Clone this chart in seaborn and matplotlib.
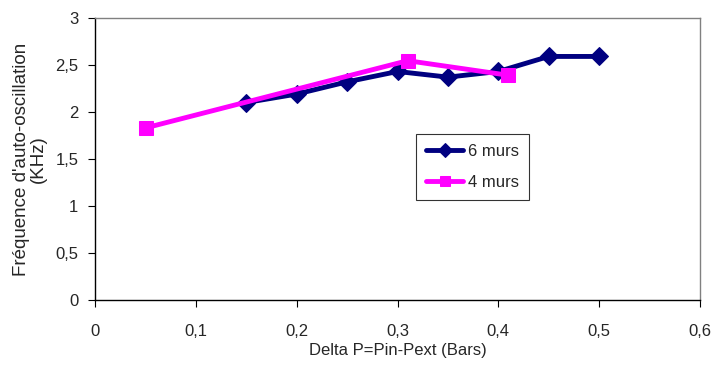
import matplotlib
matplotlib.use("Agg")
import matplotlib.pyplot as plt
import seaborn as sns
import pandas as pd

# Données
x_6murs = [0.15, 0.20, 0.25, 0.30, 0.35, 0.40, 0.45, 0.50]
y_6murs = [2.10, 2.19, 2.32, 2.43, 2.37, 2.43, 2.59, 2.59]
x_4murs = [0.05, 0.31, 0.41]
y_4murs = [1.83, 2.545, 2.39]
x_ticks = [0, 0.1, 0.2, 0.3, 0.4, 0.5, 0.6]
y_ticks = [0, 0.5, 1, 1.5, 2, 2.5, 3]

df = pd.concat([
    pd.DataFrame({"x": x_6murs, "y": y_6murs, "serie": "6 murs"}),
    pd.DataFrame({"x": x_4murs, "y": y_4murs, "serie": "4 murs"}),
])

sns.set_style("white")
plt.rcParams['font.family'] = ['Liberation Sans', 'DejaVu Sans']

fig = plt.figure(figsize=(7.15, 3.65), dpi=100)
ax = fig.add_axes([0.133, 0.178, 0.846, 0.773])

palette = {"6 murs": "#000080", "4 murs": "#FF00FF"}
markers = {"6 murs": "D", "4 murs": "s"}
sizes = {"6 murs": 9, "4 murs": 10}

for serie in ["4 murs", "6 murs"]:
    sub = df[df["serie"] == serie]
    sns.lineplot(data=sub, x="x", y="y", ax=ax, color=palette[serie],
                 marker=markers[serie], markersize=sizes[serie],
                 markeredgecolor=palette[serie], linewidth=3.5,
                 label=serie, sort=False, estimator=None,
                 zorder=3 if serie == "4 murs" else 2)

ax.set_xlim(0, 0.6)
ax.set_ylim(0, 3)
ax.set_xticks(x_ticks)
ax.set_yticks(y_ticks)
ax.set_xticklabels([("%g" % v).replace(".", ",") for v in x_ticks], fontsize=12)
ax.set_yticklabels([("%g" % v).replace(".", ",") for v in y_ticks], fontsize=12)
ax.tick_params(axis="both", direction="out", length=5, width=0.8, color="black",
               bottom=True, left=True, pad=7)
ax.tick_params(axis="x", pad=12)

for side in ["left", "bottom"]:
    ax.spines[side].set_color("black")
    ax.spines[side].set_linewidth(1)
for side in ["top", "right"]:
    ax.spines[side].set_color("#808080")
    ax.spines[side].set_linewidth(1)

ax.set_xlabel("Delta P=Pin-Pext (Bars)", fontsize=12, labelpad=3)
ax.set_ylabel("Fréquence d'auto-oscillation\n(KHz)", fontsize=13.5,
              labelpad=6, linespacing=1.0)

handles, labels = ax.get_legend_handles_labels()
order = [labels.index("6 murs"), labels.index("4 murs")]
leg = ax.legend([handles[i] for i in order], [labels[i] for i in order],
                loc="upper left", bbox_to_anchor=(0.531, 0.59), fontsize=12,
                frameon=True, fancybox=False, edgecolor="black",
                handlelength=2.2, handletextpad=0.3, borderpad=0.6,
                labelspacing=1.0, markerscale=0.75, borderaxespad=0)
leg.get_frame().set_linewidth(0.8)

fig.savefig("out.png", dpi=100)
